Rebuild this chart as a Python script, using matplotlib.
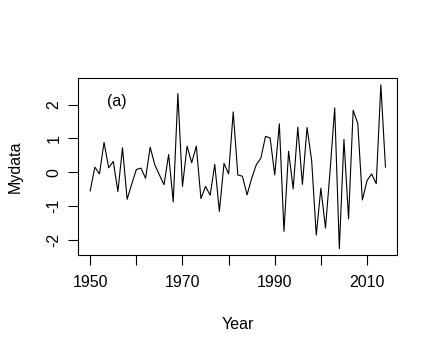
#!/usr/bin/env python3
"""Annual series plot in R base-graphics style."""

import matplotlib
import numpy as np

matplotlib.use("Agg")
import matplotlib.pyplot as plt

years = np.arange(1950, 2015)
mydata = [
    -0.55, 0.15, -0.05, 0.88, 0.13, 0.32, -0.57, 0.72, -0.80, -0.35,
    0.08, 0.12, -0.18, 0.74, 0.22, -0.08, -0.37, 0.52, -0.88, 2.32,
    -0.42, 0.77, 0.28, 0.77, -0.78, -0.42, -0.68, 0.23, -1.16, 0.26,
    -0.05, 1.78, -0.08, -0.12, -0.67, -0.18, 0.22, 0.42, 1.06, 1.01,
    -0.08, 1.43, -1.75, 0.62, -0.49, 1.33, -0.36, 1.32, 0.35, -1.86,
    -0.47, -1.65, 0.05, 1.90, -2.26, 0.97, -1.38, 1.83, 1.44, -0.82,
    -0.25, -0.05, -0.34, 2.58, 0.15,
]
x_ticks = [1950, 1960, 1970, 1980, 1990, 2000, 2010]
x_labels = ["1950", "", "1970", "", "1990", "", "2010"]
y_ticks = [-2, -1, 0, 1, 2]

plt.rcParams["font.family"] = ["Liberation Sans", "DejaVu Sans"]

fig = plt.figure(figsize=(4.38, 3.53), dpi=100)
ax = fig.add_axes([0.179, 0.277, 0.728, 0.501])
ax.plot(years, mydata, color="black", lw=0.8)
ax.margins(x=0.04, y=0.04)

ax.set_xticks(x_ticks)
ax.set_xticklabels(x_labels)
ax.set_yticks(y_ticks)
ax.set_yticklabels([str(v) for v in y_ticks], rotation=90, va="center")
ax.tick_params(direction="out", length=7, width=0.8, labelsize=11.5, pad=7)
ax.tick_params(axis="y", pad=5)
for s in ax.spines.values():
    s.set_linewidth(0.8)

ax.set_xlabel("Year", fontsize=11.5, labelpad=20)
ax.set_ylabel("Mydata", fontsize=11.5, labelpad=17)
ax.text(1955.7, 2.1, "(a)", fontsize=11.5, ha="center", va="center")

fig.savefig("out.png", dpi=100)
